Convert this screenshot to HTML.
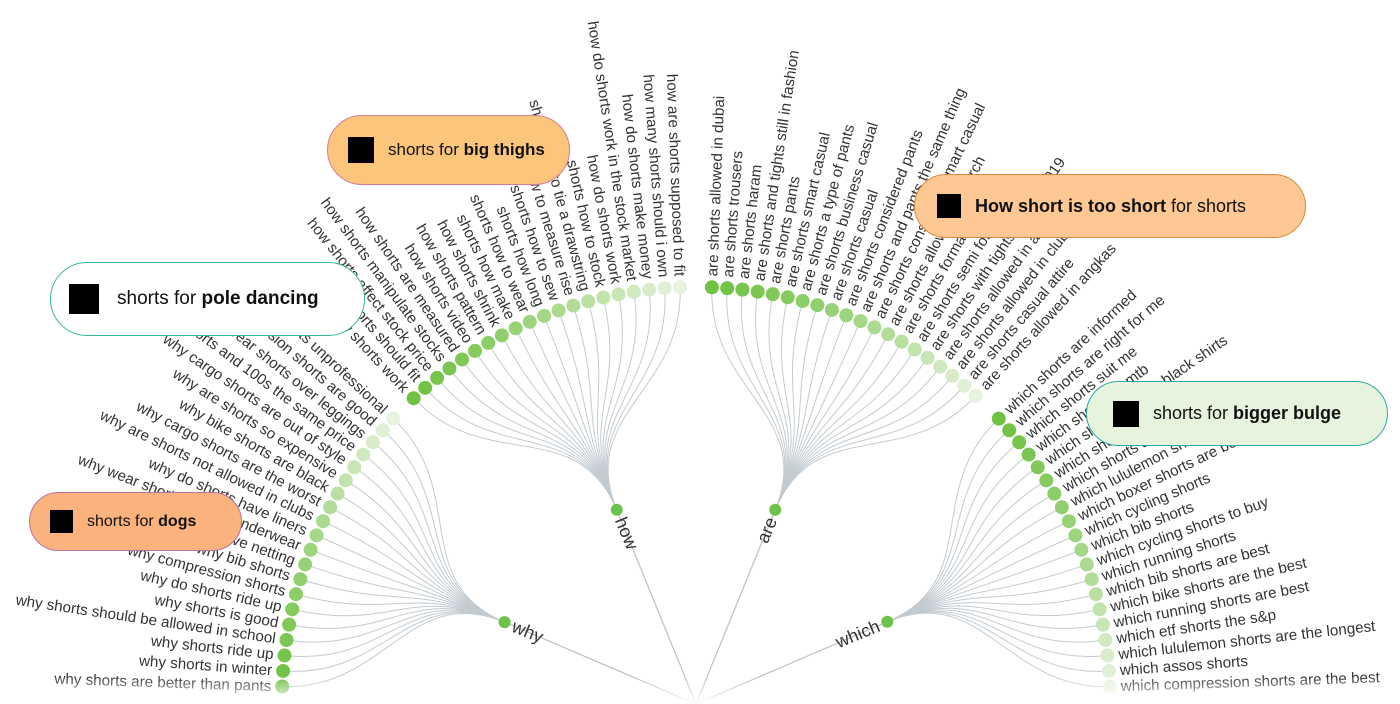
<!DOCTYPE html>
<html><head><meta charset="utf-8">
<style>
html,body{margin:0;padding:0;background:#fff;}
body{width:1400px;height:704px;overflow:hidden;position:relative;font-family:"Liberation Sans",Arial,sans-serif;}
svg{position:absolute;left:0;top:0;}
.pill{position:absolute;box-sizing:border-box;border-radius:40px;display:flex;align-items:center;color:#111;white-space:nowrap;}
.pill i{display:inline-block;background:#000;margin-right:14px;}
</style></head>
<body>
<svg id="s" width="1400" height="704" viewBox="0 0 1400 704" xmlns="http://www.w3.org/2000/svg">
<defs>
<linearGradient id="fade" x1="0" y1="0" x2="0" y2="1">
<stop offset="0" stop-color="#fff" stop-opacity="0"/>
<stop offset="1" stop-color="#fff" stop-opacity="1"/>
</linearGradient>
</defs>
<g id="links"></g><g id="dots"></g><g id="labels"></g>
<rect x="0" y="676" width="1400" height="28" fill="url(#fade)"/>
</svg>

<div class="pill" style="left:327px;top:115px;width:243px;height:70px;background:#fcc57c;border:1.5px solid #d77a9a;padding-left:20px;font-size:17px;"><i style="width:26px;height:26px"></i>shorts for&nbsp;<b>big thighs</b></div>
<div class="pill" style="left:914px;top:174px;width:392px;height:64px;background:#fdc894;border:1.5px solid #e0893a;padding-left:22px;font-size:18px;"><i style="width:24px;height:24px"></i><b>How short is too short</b>&nbsp;for shorts</div>
<div class="pill" style="left:50px;top:262px;width:315px;height:74px;background:#fff;border:1.5px solid #35b89c;padding-left:18px;font-size:19px;"><i style="width:30px;height:30px;margin-right:18px"></i>shorts for&nbsp;<b>pole dancing</b></div>
<div class="pill" style="left:1086px;top:381px;width:302px;height:65px;background:#e6f4de;border:1.5px solid #2ea8a8;padding-left:26px;font-size:18px;"><i style="width:26px;height:26px"></i>shorts for&nbsp;<b>bigger bulge</b></div>
<div class="pill" style="left:29px;top:492px;width:213px;height:59px;background:#fbb27c;border:1.5px solid #b872a8;padding-left:20px;font-size:16px;"><i style="width:23px;height:23px"></i>shorts for&nbsp;<b>dogs</b></div>

<script>
var NS="http://www.w3.org/2000/svg";
var cx=696, cy=701, R=414, RG=207;
var groups=[
 {name:"why",a0:-88,a1:-47,ga:-67.6,items:["why shorts are better than pants","why shorts in winter","why shorts ride up","why shorts should be allowed in school","why shorts is good","why do shorts ride up","why compression shorts","why bib shorts","why do shorts have netting","why wear shorts with no underwear","why do shorts have liners","why are shorts not allowed in clubs","why cargo shorts are the worst","why bike shorts are black","why are shorts so expensive","why cargo shorts are out of style","why are 50s shorts and 100s the same price","why wear shorts over leggings","why compression shorts are good","why are shorts unprofessional"]},
 {name:"how",a0:-43,a1:-2.2,ga:-22.5,items:["how shorts work","how shorts should fit","how shorts affect stock price","how shorts manipulate stocks","how shorts are measured","how shorts video","how shorts pattern","how shorts shrink","shorts how make","shorts how to wear","shorts how long","shorts how to sew","shorts how to measure rise","shorts how to tie a drawstring","shorts how to stock","how do shorts work","how do shorts work in the stock market","how do shorts make money","how many shorts should i own","how are shorts supposed to fit"]},
 {name:"are",a0:2.2,a1:42.5,ga:22.5,items:["are shorts allowed in dubai","are shorts trousers","are shorts haram","are shorts and tights still in fashion","are shorts pants","are shorts smart casual","are shorts a type of pants","are shorts business casual","are shorts casual","are shorts considered pants","are shorts and pants the same thing","are shorts considered smart casual","are shorts allowed in church","are shorts formal","are shorts semi formal","are shorts with tights in style 2019","are shorts allowed in australia","are shorts allowed in clubs","are shorts casual attire","are shorts allowed in angkas"]},
 {name:"which",a0:47,a1:88,ga:67.5,items:["which shorts are informed","which shorts are right for me","which shorts suit me","which shorts for mtb","which shorts go with black shirts","which shorts to wear","which shorts are best","which lululemon shorts","which boxer shorts are best","which cycling shorts","which bib shorts","which cycling shorts to buy","which running shorts","which bib shorts are best","which bike shorts are the best","which running shorts are best","which etf shorts the s&p","which lululemon shorts are the longest","which assos shorts","which compression shorts are the best"]}
];
function pt(a,r){var t=a*Math.PI/180;return [cx+r*Math.sin(t), cy-r*Math.cos(t)];}
function el(n,at,p){var e=document.createElementNS(NS,n);for(var k in at)e.setAttribute(k,at[k]);p.appendChild(e);return e;}
var L=document.getElementById("links"),D=document.getElementById("dots"),T=document.getElementById("labels");
function mix(t){var c1=[112,194,68],c2=[232,243,222];var c=c1.map(function(v,i){return Math.round(v+(c2[i]-v)*t);});return "rgb("+c.join(",")+")";}
groups.forEach(function(g){
 var gp=pt(g.ga,RG);
 el("line",{x1:cx,y1:cy+3,x2:gp[0],y2:gp[1],stroke:"#b9c2c8","stroke-width":1.2},L);
 var n=g.items.length;
 g.items.forEach(function(txt,i){
  var a=g.a0+(g.a1-g.a0)*i/(n-1);
  var lp=pt(a,R),c1=pt(g.ga,(RG+R)/2),c2=pt(a,(RG+R)/2);
  el("path",{d:"M"+gp[0]+","+gp[1]+"C"+c1[0]+","+c1[1]+" "+c2[0]+","+c2[1]+" "+lp[0]+","+lp[1],fill:"none",stroke:"#c3cbd1","stroke-width":1},L);
  el("circle",{cx:lp[0],cy:lp[1],r:7,fill:mix(Math.pow(i/(n-1),1.3))},D);
  var t;
  if(a<0){
   t=el("text",{transform:"translate("+lp[0]+","+lp[1]+") rotate("+(a+90)+")",x:-11,y:5,"text-anchor":"end","font-size":15.2,fill:"#333"},T);
  }else{
   t=el("text",{transform:"translate("+lp[0]+","+lp[1]+") rotate("+(a-90)+")",x:11,y:5,"text-anchor":"start","font-size":15.2,fill:"#333"},T);
  }
  t.textContent=txt;
 });
 el("circle",{cx:gp[0],cy:gp[1],r:6,fill:"#6cc24a"},D);
 var gt;
 if(g.ga<0) gt=el("text",{transform:"translate("+gp[0]+","+gp[1]+") rotate("+(g.ga+90)+")",x:9,y:6,"text-anchor":"start","font-size":18,fill:"#333"},T);
 else gt=el("text",{transform:"translate("+gp[0]+","+gp[1]+") rotate("+(g.ga-90)+")",x:-9,y:6,"text-anchor":"end","font-size":18,fill:"#333"},T);
 gt.textContent=g.name;
});
</script>
</body></html>
